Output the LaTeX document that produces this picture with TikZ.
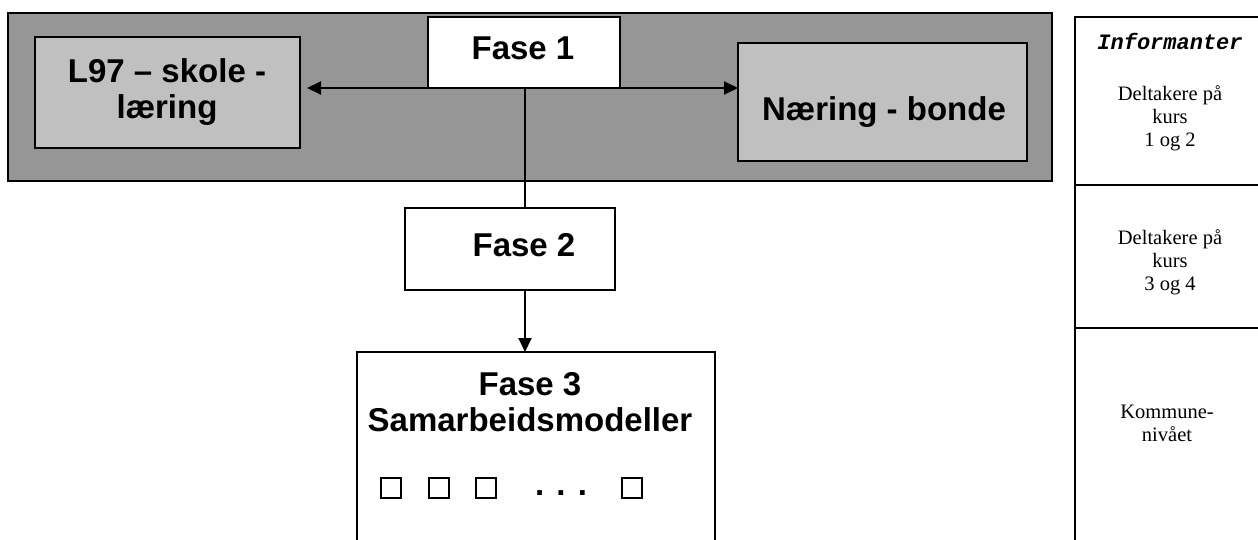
\documentclass[tikz,border=0pt]{standalone}
\usepackage{fontspec}
\setmainfont{Liberation Sans}
\newfontfamily\serifcol{Liberation Serif}
\newfontfamily\monocol{Liberation Mono}
\usetikzlibrary{arrows.meta}
\definecolor{outergray}{RGB}{150,150,150}
\definecolor{innergray}{RGB}{192,192,192}
\tikzset{
  box/.style={draw=black, line width=2pt, inner sep=0pt},
  big/.style={font=\fontsize{33}{36}\selectfont\bfseries, align=center, inner sep=0pt},
  col/.style={font=\fontsize{20.5}{23}\selectfont\serifcol, align=center, inner sep=0pt},
  conn/.style={line width=2pt},
  arr/.style={line width=2pt, -{Triangle[length=14pt,width=13pt]}},
  sq/.style={draw=black, line width=1.5pt, minimum width=20pt, minimum height=20pt, inner sep=0pt}
}
\begin{document}
\begin{tikzpicture}[x=1pt,y=-1pt]
\useasboundingbox (0,0) rectangle (1258,539);
% outer gray
\node[box, fill=outergray, minimum width=1044pt, minimum height=168pt] (outer) at (530,97) {};
\node[box, fill=innergray, minimum width=265pt, minimum height=111pt] (l97) at (167.5,92.5) {};
\node[big] (l97t) at (167,92) {L97 – skole -\\læring};
\node[box, fill=innergray, minimum width=289pt, minimum height=118pt] (naering) at (882.5,102) {};
\node[big] (naeringt) at (884,112) {Næring - bonde};
\node[box, fill=white, minimum width=192pt, minimum height=71pt] (f1) at (524,52.5) {};
\node[big] (f1t) at (523,48) {Fase 1};
\node[box, fill=white, minimum width=210pt, minimum height=82pt] (f2) at (510,249) {};
\node[big] (f2t) at (524,245) {Fase 2};
% Fase 3 open box
\draw[conn] (357,545) |- (715,352) -- (715,545);
\coordinate (f3top) at (525,352);
\node[big] (f3t) at (530,402) {Fase 3\\Samarbeidsmodeller};
\node[sq] (s1) at (391,488) {};
\node[sq] (s2) at (439,488) {};
\node[sq] (s3) at (486,488) {};
\node[sq] (s4) at (632,488) {};
\node[font=\fontsize{33}{36}\selectfont\bfseries, inner sep=0pt] (dots) at (561,493) {. . .};
% connectors
\coordinate (hub) at (525,88);
\coordinate (l97tip) at (307,88);
\coordinate (naetip) at (738,88);
\coordinate (f2top) at (525,208);
\coordinate (f2bot) at (525,290);
\draw[arr] (hub) -- (l97tip);
\draw[arr] (hub) -- (naetip);
\draw[conn] (hub) -- (f2top);
\draw[arr] (f2bot) -- (f3top);
% right column
\draw[conn] (1260,17) -- (1075,17) -- (1075,545);
\draw[conn] (1075,185) -- (1260,185);
\draw[conn] (1075,328) -- (1260,328);
\node[font=\fontsize{22}{24}\selectfont\monocol\bfseries\itshape, inner sep=0pt] (inf) at (1170,41) {Informanter};
\node[col] (c1) at (1170,118) {Deltakere på\\kurs\\1 og 2};
\node[col] (c2) at (1170,262) {Deltakere på\\kurs\\3 og 4};
\node[col] (c3) at (1167,423) {Kommune-\\nivået};
\end{tikzpicture}
\end{document}
